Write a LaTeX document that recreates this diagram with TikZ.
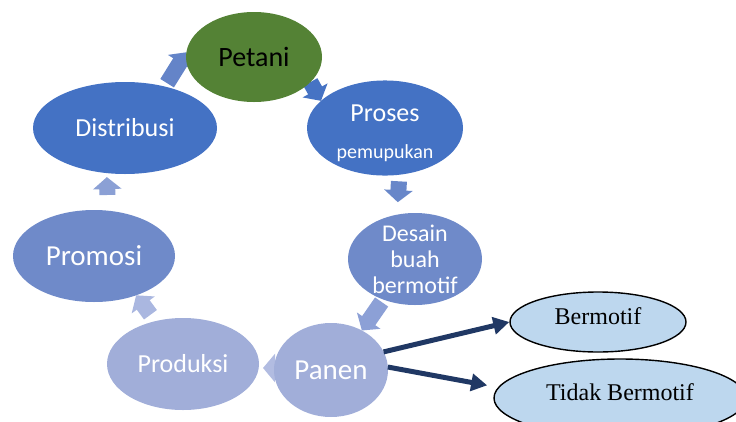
\documentclass[tikz,border=0pt]{standalone}
\usepackage{fontspec}
\setmainfont{Carlito}
\newfontfamily\timesfont{Liberation Serif}
\usetikzlibrary{shapes.geometric,arrows.meta,backgrounds}

\definecolor{petanigreen}{RGB}{84,130,53}
\definecolor{darkblue}{RGB}{68,114,196}
\definecolor{midblue}{RGB}{111,138,201}
\definecolor{paleblue}{RGB}{161,174,217}
\definecolor{skyfill}{RGB}{189,215,238}
\definecolor{navy}{RGB}{32,56,100}
\definecolor{arA}{RGB}{100,132,200}
\definecolor{arB}{RGB}{70,115,196}
\definecolor{arC}{RGB}{104,135,201}
\definecolor{arD}{RGB}{140,160,214}
\definecolor{arE}{RGB}{178,188,225}
\definecolor{arF}{RGB}{170,183,224}
\definecolor{arG}{RGB}{139,160,213}

\begin{document}
\begin{tikzpicture}[x=1pt,y=-1pt,%
      stage/.style={ellipse,inner sep=0pt,outer sep=0pt,text=white,align=center},%
      result/.style={ellipse,draw=black,line width=1.4pt,fill=skyfill,inner sep=0pt,%
        text depth=12pt,font=\timesfont\fontsize{24}{26}\selectfont},%
      cyc/.style={line width=16pt,-{Triangle[length=12pt,width=28pt]}},%
      branch/.style={draw=navy,line width=5pt,-{Triangle[length=16pt,width=17pt]}}]
      \useasboundingbox (0,0) rectangle (736,421);
      \clip (0,0) rectangle (736,421);

      % % Cycle stages
      \node[stage,fill=petanigreen,text=black,minimum width=136pt,minimum height=90pt,%
        font=\fontsize{28}{30}\selectfont] (petani) at (254,57) {Petani};
      \node[stage,fill=darkblue,minimum width=156pt,minimum height=92pt,%
        font=\fontsize{20}{37}\selectfont] (proses) at (385,128)
        {\rule{0pt}{27pt}{\fontsize{26}{37}\selectfont Proses}\\pemupukan};
      \node[stage,fill=midblue,minimum width=134pt,minimum height=92pt,inner ysep=-8pt,%
        font=\fontsize{24}{26}\selectfont] (desain) at (415,259) {Desain\\buah\\bermotif};
      \node[stage,fill=paleblue,minimum width=114pt,minimum height=94pt,%
        font=\fontsize{29}{31}\selectfont] (panen) at (331,370) {Panen};
      \node[stage,fill=paleblue,minimum width=152pt,minimum height=92pt,%
        font=\fontsize{26}{28}\selectfont] (produksi) at (183,364) {Produksi};
      \node[stage,fill=midblue,minimum width=162pt,minimum height=92pt,%
        font=\fontsize{29}{31}\selectfont] (promosi) at (94,256) {Promosi};
      \node[stage,fill=darkblue,minimum width=184pt,minimum height=92pt,%
        font=\fontsize{26}{28}\selectfont] (dist) at (125,128) {Distribusi};

      % % Cycle arrows (behind the stages)
      \begin{pgfonlayer}{background}
      \draw[cyc,draw=arA,shorten <=4pt] (dist.46) -- (petani.176);
      \draw[cyc,draw=arB] (petani.-24) -- (proses.157);
      \draw[cyc,draw=arC,shorten <=6.6pt,shorten >=12.5pt] (proses.-73) -- (desain.112);
      \draw[cyc,draw=arD,shorten <=3pt] (desain.232) -- (panen.52);
      \draw[cyc,draw=arE,shorten >=4.3pt] (panen.178) -- (produksi.-3);
      \draw[cyc,draw=arF,shorten <=8pt] (produksi.123) -- (promosi.-43);
      \draw[cyc,draw=arG,shorten <=15.7pt,shorten >=4pt] (promosi.73) -- (dist.248);
      \end{pgfonlayer}

      % Results
      \node[result,minimum width=176pt,minimum height=60pt] (bermotif) at (598,322) {Bermotif};
      \node[result,minimum width=252pt,minimum height=78pt] (tidak) at (620,398) {Tidak Bermotif};
      \draw[branch] (panen.19) -- (bermotif.west);
      \draw[branch,shorten >=11pt] (panen.3) -- (tidak.175);
  \end{tikzpicture}
\end{document}
